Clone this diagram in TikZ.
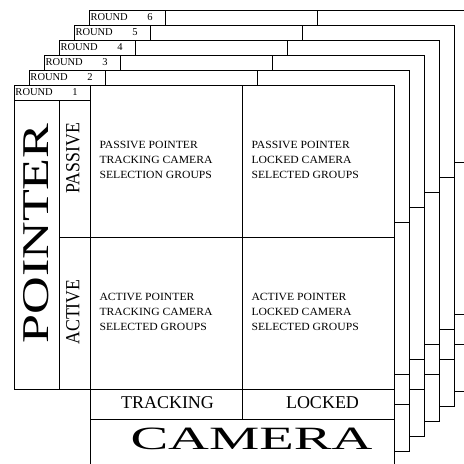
\documentclass[tikz,border=0pt]{standalone}
\usepackage{fontspec}
\setmainfont{Liberation Serif}

\begin{document}
\begin{tikzpicture}[
  x=1pt, y=-1pt,
  line width=1pt,
  card/.style={draw, fill=white},
  roundlbl/.style={font=\fontsize{10.5}{12}\selectfont, inner sep=0pt},
  cell/.style={align=left, anchor=west, inner sep=0pt, xscale=1.06,
               font=\fontsize{11}{15}\selectfont},
  side/.style={rotate=90, inner sep=0pt, xscale=0.89,
               font=\fontsize{20}{20}\selectfont},
  axislbl/.style={inner sep=0pt, font=\fontsize{18}{18}\selectfont},
  big/.style={inner sep=0pt, font=\fontsize{35}{36}\selectfont}]
\useasboundingbox (0,0) rectangle (464,464);
\clip (0,0) rectangle (464,464);
% the rounds, stacked from back to front
\foreach \n in {6,...,1}{
  \begin{scope}[shift={({15*(\n-1)},{-15*(\n-1)})}]
    \draw[card] (14,85) -- (394,85) -- (394,466) -- (90,466) -- (90,389)
      -- (14,389) -- cycle;
    \draw (14,100) -- (90,100);
    \draw (90,85) -- (90,466);
    \draw (59,100) -- (59,389);
    \draw (242,85) -- (242,419);
    \draw (59,237) -- (394,237);
    \draw (90,389) -- (394,389);
    \draw (90,419) -- (394,419);
    \node[roundlbl, anchor=west] (round\n) at (15,92.5) {ROUND};
    \node[roundlbl] (num\n) at (75,92.5) {\n};
  \end{scope}
}
% front round
\node[big, rotate=90, xscale=1.38, font=\fontsize{37.8}{38}\selectfont]
  (pointer) at (36.5,233.5) {POINTER};
\node[side] (passive) at (73,158) {PASSIVE};
\node[side] (active) at (73,312) {ACTIVE};
\node[cell] (pt) at (99,160)
  {PASSIVE POINTER\\TRACKING CAMERA\\SELECTION GROUPS};
\node[cell] (pl) at (251,160)
  {PASSIVE POINTER\\LOCKED CAMERA\\SELECTED GROUPS};
\node[cell] (at) at (99,312)
  {ACTIVE POINTER\\TRACKING CAMERA\\SELECTED GROUPS};
\node[cell] (al) at (251,312)
  {ACTIVE POINTER\\LOCKED CAMERA\\SELECTED GROUPS};
\node[axislbl] (tracking) at (167.5,403) {TRACKING};
\node[axislbl] (locked) at (322.5,403) {LOCKED};
\node[big, xscale=1.74, font=\fontsize{32.5}{34}\selectfont]
  (camera) at (251.5,439) {CAMERA};
\end{tikzpicture}
\end{document}
